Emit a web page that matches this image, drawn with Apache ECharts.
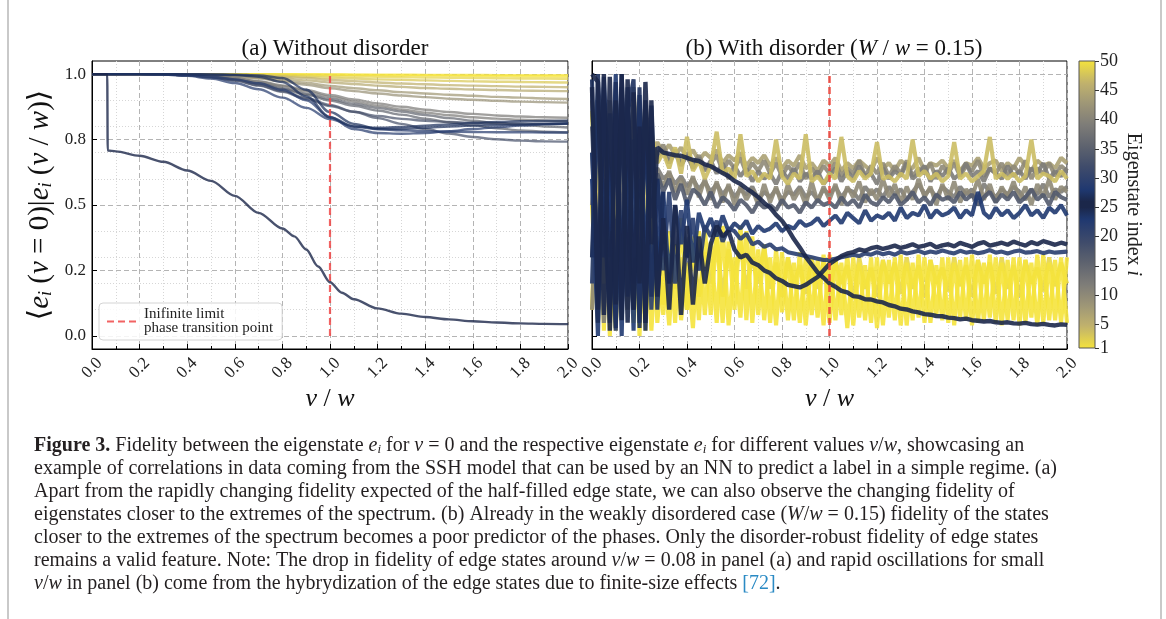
<!DOCTYPE html>
<html>
<head>
<meta charset="utf-8">
<script src="https://cdn.jsdelivr.net/npm/echarts@6.0.0/dist/echarts.min.js"></script>
<style>
  html, body { margin: 0; padding: 0; background: #fff; }
  #chart { width: 1166px; height: 619px; }
</style>
</head>
<body>
<div id="chart"></div>
<script>
// ---------- data: panel (a) ----------
var xsA = [0, 0.1, 0.2, 0.3, 0.4, 0.5, 0.6, 0.7, 0.8, 0.9, 1.0, 1.1, 1.2, 1.3, 1.4, 1.5, 1.6, 1.7, 1.8, 1.9, 2.0];

var aState1  = [1, 1, 1, 1, 1, 1, 1, 1, 1, 0.999, 0.999, 0.998, 0.998, 0.998, 0.997, 0.997, 0.997, 0.996, 0.996, 0.996, 0.996];
var aState50 = [1, 1, 1, 1, 1, 1, 1, 1, 0.999, 0.999, 0.998, 0.997, 0.996, 0.995, 0.995, 0.994, 0.993, 0.993, 0.992, 0.992, 0.991];
var aState2  = [1, 1, 1, 1, 1, 1, 0.999, 0.998, 0.997, 0.995, 0.993, 0.991, 0.99, 0.988, 0.987, 0.986, 0.985, 0.984, 0.983, 0.983, 0.982];
var aState48 = [1, 1, 1, 1, 1, 0.999, 0.998, 0.996, 0.993, 0.99, 0.986, 0.983, 0.98, 0.978, 0.976, 0.974, 0.972, 0.971, 0.97, 0.969, 0.968];
var aState5  = [1, 1, 1, 1, 1, 0.999, 0.997, 0.994, 0.99, 0.985, 0.978, 0.973, 0.968, 0.964, 0.961, 0.958, 0.956, 0.954, 0.952, 0.951, 0.95];
var aState45 = [1, 1, 1, 1, 0.999, 0.998, 0.995, 0.99, 0.984, 0.976, 0.968, 0.962, 0.956, 0.951, 0.947, 0.944, 0.941, 0.939, 0.937, 0.936, 0.935];
var aState8  = [1, 1, 1, 1, 0.999, 0.997, 0.993, 0.986, 0.977, 0.966, 0.955, 0.946, 0.938, 0.931, 0.926, 0.921, 0.917, 0.913, 0.91, 0.907, 0.905];
var aState42 = [1, 1, 1, 1, 0.999, 0.996, 0.991, 0.983, 0.972, 0.959, 0.946, 0.935, 0.926, 0.918, 0.912, 0.906, 0.902, 0.898, 0.895, 0.893, 0.891];
var aState12 = [1, 1, 1, 0.999, 0.997, 0.993, 0.985, 0.973, 0.957, 0.939, 0.92, 0.903, 0.888, 0.875, 0.864, 0.855, 0.848, 0.842, 0.838, 0.835, 0.833];
var aState39 = [1, 1, 1, 0.999, 0.997, 0.992, 0.984, 0.971, 0.954, 0.934, 0.913, 0.895, 0.879, 0.865, 0.853, 0.843, 0.835, 0.83, 0.826, 0.823, 0.821];
var aState15 = [1, 1, 1, 0.999, 0.996, 0.99, 0.98, 0.965, 0.946, 0.925, 0.905, 0.887, 0.871, 0.857, 0.844, 0.832, 0.822, 0.813, 0.806, 0.8, 0.796];
var aState36 = [1, 1, 1, 0.999, 0.996, 0.99, 0.979, 0.963, 0.943, 0.921, 0.899, 0.879, 0.861, 0.845, 0.83, 0.816, 0.804, 0.793, 0.785, 0.78, 0.777];
var aState18 = [1, 1, 1, 0.999, 0.995, 0.988, 0.976, 0.958, 0.935, 0.909, 0.882, 0.856, 0.832, 0.81, 0.79, 0.773, 0.76, 0.751, 0.746, 0.743, 0.742];
var aState33 = [1, 1, 1, 0.999, 0.995, 0.988, 0.975, 0.956, 0.932, 0.905, 0.878, 0.856, 0.84, 0.829, 0.822, 0.817, 0.814, 0.812, 0.811, 0.81, 0.81];
var aState22 = [1, 1, 1, 0.998, 0.993, 0.983, 0.966, 0.942, 0.91, 0.871, 0.828, 0.8, 0.79, 0.785, 0.782, 0.78, 0.779, 0.778, 0.778, 0.777, 0.777];
var aState29 = [1, 1, 1, 0.999, 0.996, 0.99, 0.98, 0.965, 0.94, 0.9, 0.835, 0.79, 0.775, 0.772, 0.775, 0.782, 0.79, 0.797, 0.803, 0.808, 0.812];
var aState24 = [1, 1, 1, 1, 0.999, 0.998, 0.996, 0.99, 0.97, 0.915, 0.835, 0.8, 0.795, 0.798, 0.803, 0.808, 0.813, 0.817, 0.82, 0.821, 0.822];
var aState27 = [1, 1, 1, 1, 1, 0.999, 0.998, 0.995, 0.985, 0.94, 0.855, 0.81, 0.79, 0.79, 0.795, 0.8, 0.803, 0.806, 0.808, 0.81, 0.811];

// the half-filled edge state, sampled on its own grid
var xsEdge  = [0, 0.064, 0.066, 0.1, 0.2, 0.3, 0.4, 0.5, 0.6, 0.7, 0.8, 0.85, 0.9, 0.95, 1.0, 1.05, 1.1, 1.2, 1.3, 1.4, 1.5, 1.6, 1.7, 1.8, 1.9, 2.0];
var aEdge25 = [1, 1, 0.708, 0.705, 0.688, 0.665, 0.632, 0.592, 0.535, 0.47, 0.41, 0.38, 0.33, 0.265, 0.205, 0.165, 0.14, 0.105, 0.085, 0.072, 0.063, 0.056, 0.051, 0.048, 0.046, 0.045];

// ---------- data: panel (b) ----------
var xsB = [0, 0.025, 0.05, 0.075, 0.1, 0.125, 0.15, 0.175, 0.2, 0.225,
  0.25, 0.275, 0.3, 0.325, 0.35, 0.375, 0.4, 0.425, 0.45, 0.475,
  0.5, 0.525, 0.55, 0.575, 0.6, 0.625, 0.65, 0.675, 0.7, 0.725,
  0.75, 0.775, 0.8, 0.825, 0.85, 0.875, 0.9, 0.925, 0.95, 0.975,
  1.0, 1.025, 1.05, 1.075, 1.1, 1.125, 1.15, 1.175, 1.2, 1.225,
  1.25, 1.275, 1.3, 1.325, 1.35, 1.375, 1.4, 1.425, 1.45, 1.475,
  1.5, 1.525, 1.55, 1.575, 1.6, 1.625, 1.65, 1.675, 1.7, 1.725,
  1.75, 1.775, 1.8, 1.825, 1.85, 1.875, 1.9, 1.925, 1.95, 1.975, 2.0];

var bState49 = [0.5, 0.05, 0.7, 0.3, 0.02, 0.6, 0.25, 0.8, 0.1, 0.45,
  0.15, 0.3, 0.12, 0.33, 0.18, 0.3, 0.1, 0.35, 0.15, 0.32,
  0.2, 0.38, 0.15, 0.33, 0.22, 0.36, 0.18, 0.3, 0.2, 0.34,
  0.18, 0.28, 0.15, 0.3, 0.2, 0.27, 0.16, 0.3, 0.18, 0.28,
  0.16, 0.29, 0.2, 0.27, 0.14, 0.3, 0.18, 0.26, 0.15, 0.29,
  0.2, 0.28, 0.16, 0.3, 0.18, 0.27, 0.15, 0.29, 0.2, 0.26,
  0.17, 0.3, 0.19, 0.27, 0.15, 0.29, 0.2, 0.28, 0.16, 0.3,
  0.18, 0.27, 0.15, 0.29, 0.2, 0.26, 0.17, 0.3, 0.19, 0.28, 0.2];
var bState1 = [0.85, 0.4, 0.86, 0.0, 0.7, 0.2, 0.86, 0.05, 0.6, 0.02,
  0.5, 0.05, 0.3, 0.04, 0.35, 0.06, 0.28, 0.03, 0.4, 0.08,
  0.36, 0.05, 0.42, 0.04, 0.3, 0.07, 0.4, 0.05, 0.33, 0.06,
  0.3, 0.04, 0.32, 0.06, 0.28, 0.05, 0.3, 0.08, 0.29, 0.04,
  0.31, 0.06, 0.28, 0.03, 0.3, 0.07, 0.27, 0.05, 0.3, 0.04,
  0.29, 0.06, 0.31, 0.04, 0.28, 0.07, 0.3, 0.05, 0.27, 0.06,
  0.3, 0.04, 0.29, 0.06, 0.31, 0.05, 0.28, 0.07, 0.3, 0.04,
  0.29, 0.06, 0.3, 0.05, 0.28, 0.04, 0.31, 0.06, 0.29, 0.05, 0.3];
var bState50 = [0.1, 0.8, 0.02, 0.75, 0.3, 0.84, 0.1, 0.65, 0.0, 0.5,
  0.02, 0.38, 0.08, 0.4, 0.05, 0.45, 0.1, 0.38, 0.06, 0.42,
  0.08, 0.4, 0.05, 0.36, 0.1, 0.42, 0.06, 0.38, 0.08, 0.35,
  0.05, 0.33, 0.09, 0.3, 0.06, 0.32, 0.04, 0.29, 0.07, 0.31,
  0.05, 0.29, 0.08, 0.31, 0.04, 0.28, 0.06, 0.3, 0.03, 0.29,
  0.07, 0.3, 0.04, 0.28, 0.06, 0.31, 0.05, 0.29, 0.08, 0.3,
  0.05, 0.28, 0.07, 0.3, 0.04, 0.29, 0.06, 0.31, 0.05, 0.28,
  0.06, 0.3, 0.04, 0.29, 0.07, 0.31, 0.05, 0.28, 0.06, 0.3, 0.05];
var bState44 = [0.9, 0.4, 0.8, 0.15, 0.65, 0.3, 0.85, 0.5, 0.2, 0.75,
  0.7, 0.74, 0.7, 0.73, 0.69, 0.72, 0.68, 0.71, 0.67, 0.7,
  0.68, 0.71, 0.66, 0.69, 0.67, 0.7, 0.65, 0.68, 0.66, 0.69,
  0.65, 0.68, 0.64, 0.67, 0.65, 0.69, 0.64, 0.66, 0.63, 0.67,
  0.65, 0.68, 0.63, 0.66, 0.64, 0.67, 0.65, 0.63, 0.68, 0.64,
  0.66, 0.63, 0.67, 0.65, 0.64, 0.68, 0.63, 0.66, 0.65, 0.67,
  0.64, 0.67, 0.63, 0.66, 0.65, 0.68, 0.64, 0.66, 0.67, 0.63,
  0.66, 0.64, 0.68, 0.65, 0.63, 0.67, 0.65, 0.66, 0.64, 0.68, 0.66];
var bState41 = [0.7, 0.2, 0.9, 0.5, 0.1, 0.8, 0.35, 0.95, 0.6, 0.25,
  0.74, 0.69, 0.73, 0.67, 0.71, 0.66, 0.7, 0.65, 0.69, 0.64,
  0.66, 0.69, 0.63, 0.67, 0.64, 0.68, 0.62, 0.66, 0.63, 0.67,
  0.62, 0.66, 0.61, 0.65, 0.62, 0.66, 0.6, 0.64, 0.61, 0.65,
  0.62, 0.66, 0.61, 0.64, 0.62, 0.67, 0.61, 0.65, 0.62, 0.66,
  0.61, 0.65, 0.62, 0.67, 0.61, 0.64, 0.62, 0.66, 0.6, 0.65,
  0.62, 0.66, 0.61, 0.65, 0.63, 0.67, 0.61, 0.64, 0.62, 0.66,
  0.61, 0.65, 0.62, 0.67, 0.6, 0.64, 0.62, 0.66, 0.61, 0.65, 0.63];
var bState39 = [0.5, 0.9, 0.2, 0.7, 0.4, 0.95, 0.1, 0.6, 0.85, 0.3,
  0.72, 0.68, 0.71, 0.66, 0.7, 0.65, 0.69, 0.64, 0.68, 0.63,
  0.67, 0.62, 0.66, 0.6, 0.65, 0.61, 0.64, 0.59, 0.63, 0.6,
  0.62, 0.58, 0.63, 0.6, 0.64, 0.59, 0.62, 0.6, 0.63, 0.58,
  0.61, 0.64, 0.59, 0.63, 0.6, 0.65, 0.61, 0.62, 0.58, 0.64,
  0.6, 0.63, 0.61, 0.66, 0.6, 0.62, 0.65, 0.59, 0.63, 0.61,
  0.64, 0.6, 0.62, 0.66, 0.61, 0.63, 0.59, 0.64, 0.62, 0.6,
  0.65, 0.61, 0.63, 0.6, 0.64, 0.62, 0.66, 0.6, 0.63, 0.61, 0.64];
var bState12 = [0.3, 0.7, 0.05, 0.5, 0.85, 0.2, 0.6, 0.35, 0.75, 0.15,
  0.6, 0.64, 0.6, 0.62, 0.58, 0.61, 0.57, 0.6, 0.56, 0.59,
  0.55, 0.58, 0.54, 0.57, 0.53, 0.56, 0.54, 0.57, 0.52, 0.55,
  0.53, 0.56, 0.52, 0.55, 0.54, 0.57, 0.53, 0.55, 0.52, 0.56,
  0.54, 0.57, 0.53, 0.56, 0.55, 0.52, 0.57, 0.54, 0.56, 0.53,
  0.57, 0.54, 0.56, 0.52, 0.55, 0.58, 0.54, 0.56, 0.53, 0.57,
  0.55, 0.53, 0.57, 0.54, 0.56, 0.52, 0.58, 0.55, 0.53, 0.56,
  0.54, 0.57, 0.55, 0.52, 0.56, 0.54, 0.58, 0.53, 0.56, 0.55, 0.57];
var bState10 = [0.1, 0.6, 0.35, 0.9, 0.05, 0.5, 0.8, 0.2, 0.4, 0.9,
  0.55, 0.62, 0.57, 0.63, 0.55, 0.6, 0.54, 0.61, 0.53, 0.6,
  0.52, 0.59, 0.51, 0.58, 0.5, 0.57, 0.52, 0.56, 0.5, 0.58,
  0.51, 0.57, 0.5, 0.58, 0.52, 0.56, 0.5, 0.59, 0.51, 0.57,
  0.52, 0.58, 0.5, 0.57, 0.53, 0.59, 0.51, 0.56, 0.52, 0.6,
  0.53, 0.58, 0.51, 0.57, 0.52, 0.6, 0.53, 0.57, 0.5, 0.58,
  0.52, 0.59, 0.51, 0.56, 0.53, 0.6, 0.52, 0.58, 0.51, 0.57,
  0.53, 0.59, 0.52, 0.57, 0.5, 0.58, 0.53, 0.6, 0.52, 0.57, 0.55];
var bState47 = [0.86, 0.6, 0.2, 0.85, 0.45, 0.1, 0.8, 0.3, 0.7, 0.5,
  0.78, 0.66, 0.7, 0.64, 0.72, 0.62, 0.76, 0.63, 0.67, 0.6,
  0.65, 0.78, 0.62, 0.64, 0.6, 0.77, 0.61, 0.63, 0.59, 0.62,
  0.6, 0.75, 0.61, 0.58, 0.62, 0.6, 0.77, 0.59, 0.61, 0.58,
  0.62, 0.6, 0.76, 0.61, 0.59, 0.63, 0.6, 0.62, 0.74, 0.6,
  0.61, 0.59, 0.62, 0.6, 0.75, 0.61, 0.63, 0.6, 0.62, 0.59,
  0.61, 0.74, 0.6, 0.62, 0.59, 0.61, 0.63, 0.76, 0.6, 0.62,
  0.6, 0.62, 0.59, 0.61, 0.75, 0.6, 0.62, 0.61, 0.59, 0.63, 0.6];
var bState34 = [0.8, 0.3, 0.6, 0.1, 0.75, 0.4, 0.9, 0.2, 0.55, 0.7,
  0.45, 0.62, 0.55, 0.6, 0.52, 0.58, 0.5, 0.56, 0.54, 0.5,
  0.55, 0.49, 0.53, 0.51, 0.48, 0.52, 0.5, 0.47, 0.51, 0.49,
  0.5, 0.48, 0.52, 0.49, 0.5, 0.47, 0.51, 0.49, 0.52, 0.5,
  0.51, 0.49, 0.53, 0.5, 0.52, 0.49, 0.54, 0.51, 0.5, 0.53,
  0.51, 0.54, 0.5, 0.52, 0.55, 0.51, 0.53, 0.5, 0.54, 0.52,
  0.53, 0.51, 0.55, 0.52, 0.54, 0.5, 0.53, 0.55, 0.51, 0.54,
  0.52, 0.55, 0.51, 0.53, 0.56, 0.52, 0.54, 0.5, 0.55, 0.53, 0.52];
var bState28 = [0.6, 0.0, 0.95, 0.3, 1.0, 0.1, 0.7, 0.02, 0.92, 0.25,
  0.8, 0.3, 0.55, 0.2, 0.5, 0.35, 0.52, 0.28, 0.47, 0.4,
  0.45, 0.38, 0.46, 0.4, 0.43, 0.41, 0.44, 0.39, 0.42, 0.4,
  0.41, 0.43, 0.4, 0.42, 0.41, 0.44, 0.42, 0.43, 0.45, 0.42,
  0.44, 0.46, 0.43, 0.47, 0.45, 0.43, 0.48, 0.44, 0.46, 0.45,
  0.47, 0.44, 0.49, 0.45, 0.47, 0.46, 0.5, 0.45, 0.48, 0.46,
  0.47, 0.49, 0.45, 0.48, 0.46, 0.55, 0.47, 0.45, 0.49, 0.46,
  0.48, 0.45, 0.47, 0.5, 0.46, 0.48, 0.45, 0.49, 0.47, 0.5, 0.46];
var bState22 = [0.2, 0.9, 0.3, 0.85, 0.02, 0.95, 0.15, 0.75, 0.05, 0.88,
  0.1, 0.6, 0.25, 0.55, 0.2, 0.48, 0.3, 0.45, 0.25, 0.42,
  0.38, 0.44, 0.36, 0.41, 0.4, 0.37, 0.39, 0.35, 0.36, 0.34,
  0.35, 0.33, 0.335, 0.32, 0.315, 0.31, 0.305, 0.3, 0.295, 0.29,
  0.29, 0.295, 0.3, 0.305, 0.31, 0.305, 0.315, 0.31, 0.32, 0.312,
  0.318, 0.31, 0.322, 0.315, 0.32, 0.325, 0.316, 0.322, 0.318, 0.326,
  0.32, 0.315, 0.325, 0.318, 0.322, 0.316, 0.32, 0.328, 0.318, 0.322,
  0.315, 0.322, 0.326, 0.318, 0.32, 0.324, 0.316, 0.322, 0.318, 0.32, 0.322];
var bState26 = [0.95, 0.1, 1.0, 0.02, 0.9, 0.06, 0.98, 0.1, 0.8, 0.05,
  0.9, 0.15, 0.45, 0.1, 0.5, 0.08, 0.42, 0.12, 0.38, 0.2,
  0.35, 0.42, 0.38, 0.4, 0.33, 0.3, 0.31, 0.28, 0.27, 0.25,
  0.24, 0.22, 0.21, 0.195, 0.19, 0.185, 0.195, 0.21, 0.225, 0.25,
  0.275, 0.29, 0.305, 0.315, 0.32, 0.33, 0.325, 0.335, 0.34, 0.332,
  0.338, 0.345, 0.336, 0.342, 0.35, 0.34, 0.345, 0.352, 0.338, 0.346,
  0.35, 0.342, 0.355, 0.348, 0.34, 0.352, 0.358, 0.345, 0.35, 0.356,
  0.348, 0.36, 0.352, 0.345, 0.358, 0.35, 0.362, 0.355, 0.348, 0.356, 0.35];
var bState25 = [1.0, 0.97, 0.08, 0.99, 0.12, 1.0, 0.05, 0.93, 0.2, 0.97,
  0.35, 0.72, 0.7, 0.695, 0.69, 0.688, 0.68, 0.672, 0.668, 0.655,
  0.648, 0.635, 0.622, 0.61, 0.592, 0.58, 0.563, 0.548, 0.53, 0.508,
  0.49, 0.462, 0.44, 0.408, 0.37, 0.338, 0.302, 0.272, 0.243, 0.222,
  0.2, 0.188, 0.172, 0.166, 0.152, 0.149, 0.14, 0.139, 0.132, 0.128,
  0.118, 0.113, 0.104, 0.101, 0.094, 0.09, 0.083, 0.081, 0.076, 0.075,
  0.07, 0.068, 0.063, 0.066, 0.06, 0.058, 0.055, 0.057, 0.052, 0.05,
  0.052, 0.048, 0.047, 0.05, 0.045, 0.043, 0.046, 0.042, 0.04, 0.044, 0.042];
// hybridised states that only matter for small v/w (first 13 samples of xsB)
var bEarly24 = [0.98, 0.05, 0.9, 0.6, 0.03, 1.0, 0.4, 0.1, 0.95, 0.02, 0.75, 0.1, 0.55];
var bEarly27 = [0.3, 1.0, 0.5, 0.05, 0.97, 0.2, 0.85, 0.98, 0.03, 0.9, 0.15, 0.6, 0.35];
var bEarly23 = [0.7, 0.2, 0.99, 0.4, 0.85, 0.0, 0.95, 0.3, 0.6, 0.1, 0.88, 0.25, 0.45];

// ---------- axes ----------
var xTickStep = 0.2;
var yMajorVals = [0, 0.25, 0.5, 0.75, 1.0];
var yMajorLabels = ['0.0', '0.2', '0.5', '0.8', '1.0'];
var yMinorVals = [0.1, 0.2, 0.3, 0.4, 0.6, 0.7, 0.8, 0.9];
var cbTicks = [1, 5, 10, 15, 20, 25, 30, 35, 40, 45, 50];
var transitionX = [1.0, 1.0];
var transitionY = [0, 1.0];

// ---------- colormap (mirrored cividis-like) ----------
var cmapStops = [
  [0.0, [26, 35, 64]], [0.1, [31, 56, 112]], [0.25, [61, 74, 107]],
  [0.4, [93, 98, 110]], [0.55, [125, 124, 120]], [0.7, [158, 150, 119]],
  [0.85, [194, 179, 108]], [1.0, [245, 227, 60]]
];
function cmap(t) {
  for (var k = 1; k < cmapStops.length; k++) {
    if (t <= cmapStops[k][0]) {
      var a = cmapStops[k - 1], b = cmapStops[k];
      var f = (t - a[0]) / (b[0] - a[0]);
      var c = a[1].map(function (v, j) { return Math.round(v + (b[1][j] - v) * f); });
      return 'rgb(' + c.join(',') + ')';
    }
  }
  return 'rgb(' + cmapStops[cmapStops.length - 1][1].join(',') + ')';
}
function stateColor(i) { return cmap(Math.abs(i - 25.5) / 24.5); }

var serif = "'Liberation Serif', 'DejaVu Serif', serif";

var chartDom = document.getElementById('chart');
var fidelityChart = echarts.init(chartDom);

var series = [];

var aLines = [
  [1, aState1], [50, aState50], [2, aState2], [48, aState48], [5, aState5], [45, aState45],
  [8, aState8], [42, aState42], [12, aState12], [39, aState39], [15, aState15], [36, aState36],
  [18, aState18], [33, aState33], [22, aState22], [29, aState29], [24, aState24], [27, aState27]
];
aLines.forEach(function (l) {
  series.push({
    type: 'line', xAxisIndex: 0, yAxisIndex: 0, symbol: 'none', silent: true,
    smooth: 0.35, smoothMonotone: 'x',
    data: xsA.map(function (x, k) { return [x, l[1][k]]; }),
    lineStyle: { color: stateColor(l[0]), width: 2.4, opacity: 0.72 }
  });
});
series.push({
  type: 'line', xAxisIndex: 0, yAxisIndex: 0, symbol: 'none', silent: true,
  smooth: 0.3, smoothMonotone: 'x',
  data: xsEdge.map(function (x, k) { return [x, aEdge25[k]]; }),
  lineStyle: { color: stateColor(25), width: 2.4, opacity: 0.8 }
});

var bLines = [
  [49, bState49], [1, bState1], [50, bState50], [44, bState44], [41, bState41], [39, bState39],
  [12, bState12], [10, bState10], [47, bState47], [34, bState34], [28, bState28], [22, bState22],
  [24, bEarly24], [27, bEarly27], [23, bEarly23], [26, bState26], [25, bState25]
];
bLines.forEach(function (l) {
  var edge = (l[0] === 25 || l[0] === 26);
  series.push({
    type: 'line', xAxisIndex: 1, yAxisIndex: 2, symbol: 'none', silent: true,
    data: l[1].map(function (y, k) { return [xsB[k], y]; }),
    lineStyle: { color: stateColor(l[0]), width: edge ? 4.4 : 4.1, opacity: 0.9 }
  });
});

var legendName = 'Inifinite limit\nphase transition point';
series.push({
  name: legendName, type: 'line', xAxisIndex: 0, yAxisIndex: 0, symbol: 'none', silent: true, z: 5,
  data: transitionX.map(function (x, k) { return [x, transitionY[k]]; }),
  itemStyle: { color: '#f04848' },
  lineStyle: { color: '#f04848', width: 2.2, type: [7, 4], opacity: 0.85 }
});
series.push({
  name: 'transition (b)', type: 'line', xAxisIndex: 1, yAxisIndex: 2, symbol: 'none', silent: true, z: 5,
  data: transitionX.map(function (x, k) { return [x, transitionY[k]]; }),
  lineStyle: { color: '#eb4036', width: 2.6, type: [7, 4], opacity: 0.85 }
});

function xAxisPanel(gi) {
  return {
    type: 'value', gridIndex: gi, min: 0, max: 2, interval: xTickStep,
    name: '{i|v} / {i|w}', nameLocation: 'middle', nameGap: 37,
    nameTextStyle: { fontFamily: serif, fontSize: 26, color: '#111', rich: { i: { fontStyle: 'italic', fontFamily: serif, fontSize: 26 } } },
    axisLine: { show: true, onZero: false, lineStyle: { color: '#000', width: 1 } },
    axisTick: { show: true, inside: true, length: 5, lineStyle: { color: '#000' } },
    minorTick: { show: true, splitNumber: 2, length: 3, lineStyle: { color: '#000' } },
    axisLabel: {
      rotate: 45, align: 'center', verticalAlign: 'middle', margin: 19,
      fontFamily: serif, fontSize: 17, color: '#222',
      formatter: function (v) { return v.toFixed(1); }
    },
    splitLine: { show: true, lineStyle: { color: '#b4b4b4', width: 1, type: [5, 3] } },
    minorSplitLine: { show: true, lineStyle: { color: '#d6d6d6', width: 1, type: [1, 2] } }
  };
}
function yMajorAxis(gi, labels) {
  return {
    type: 'value', gridIndex: gi, min: -0.05, max: 1.05, position: 'left',
    axisLine: { show: true, onZero: false, lineStyle: { color: '#000', width: 1 } },
    axisTick: { show: true, inside: true, length: 5, customValues: yMajorVals, lineStyle: { color: '#000' } },
    axisLabel: {
      show: labels, customValues: yMajorVals, margin: 6,
      fontFamily: serif, fontSize: 17, color: '#222',
      formatter: function (v) {
        for (var k = 0; k < yMajorVals.length; k++) {
          if (Math.abs(yMajorVals[k] - v) < 1e-6) return yMajorLabels[k];
        }
        return '';
      }
    },
    splitLine: { show: true, lineStyle: { color: '#b4b4b4', width: 1, type: [5, 3] } }
  };
}
function yMinorAxis(gi) {
  return {
    type: 'value', gridIndex: gi, min: -0.05, max: 1.05, position: 'right',
    axisLine: { show: false }, axisLabel: { show: false },
    axisTick: { show: false, customValues: yMinorVals },
    splitLine: { show: true, lineStyle: { color: '#d6d6d6', width: 1, type: [1, 2] } }
  };
}

var yAxisA = yMajorAxis(0, true);
yAxisA.name = '⟨{i|e}{s|i} ({i|v} = 0)|{i|e}{s|i} ({i|v} / {i|w})⟩';
yAxisA.nameLocation = 'middle';
yAxisA.nameRotate = 90;
yAxisA.nameGap = 37;
yAxisA.nameTextStyle = {
  fontFamily: serif, fontSize: 29, color: '#111',
  rich: { i: { fontStyle: 'italic', fontFamily: serif, fontSize: 29 }, s: { fontStyle: 'italic', fontFamily: serif, fontSize: 18, verticalAlign: 'bottom' } }
};

var cbStops = [];
for (var v = 50; v >= 1; v--) {
  cbStops.push({ offset: (50 - v) / 49, color: stateColor(v) });
}

var option = {
  animation: false,
  backgroundColor: '#fff',
  title: [
    {
      text: '(a) Without disorder', left: 330, top: 32, textAlign: 'center',
      textStyle: { fontFamily: serif, fontSize: 23, fontWeight: 'normal', color: '#111' }
    },
    {
      text: '(b) With disorder ({i|W} / {i|w} = 0.15)', left: 829, top: 32, textAlign: 'center',
      textStyle: {
        fontFamily: serif, fontSize: 23, fontWeight: 'normal', color: '#111',
        rich: { i: { fontStyle: 'italic', fontFamily: serif, fontSize: 23, color: '#111' } }
      }
    }
  ],
  legend: {
    data: [legendName], left: 99, top: 303, orient: 'vertical',
    itemWidth: 32, itemHeight: 12, itemGap: 4,
    padding: [4, 9, 4, 7], backgroundColor: 'rgba(255,255,255,0.85)',
    borderColor: '#d4d4d4', borderWidth: 1, borderRadius: 4,
    itemStyle: { opacity: 0 },
    textStyle: { fontFamily: serif, fontSize: 15, color: '#222', lineHeight: 14 },
    selectedMode: false
  },
  grid: [
    { left: 92, top: 61, width: 476, height: 288, show: true, borderColor: '#000', borderWidth: 1, outerBoundsMode: 'none' },
    { left: 592, top: 61, width: 475, height: 288, show: true, borderColor: '#000', borderWidth: 1, outerBoundsMode: 'none' },
    {
      left: 1079, top: 61, width: 16, height: 287, show: true, borderColor: '#555', borderWidth: 1, outerBoundsMode: 'none',
      backgroundColor: new echarts.graphic.LinearGradient(0, 0, 0, 1, cbStops)
    }
  ],
  xAxis: [
    xAxisPanel(0),
    xAxisPanel(1),
    { type: 'category', gridIndex: 2, data: [''], show: false }
  ],
  yAxis: [
    yAxisA,
    yMinorAxis(0),
    yMajorAxis(1, false),
    yMinorAxis(1),
    {
      type: 'value', gridIndex: 2, min: 1, max: 50, position: 'right',
      axisLine: { show: false },
      axisTick: { show: true, inside: false, length: 4, customValues: cbTicks, lineStyle: { color: '#333' } },
      axisLabel: { customValues: cbTicks, margin: 5, fontFamily: serif, fontSize: 18, color: '#222' },
      splitLine: { show: false },
      name: 'Eigenstate index {i|i}', nameLocation: 'middle', nameRotate: -90, nameGap: 28,
      nameTextStyle: { fontFamily: serif, fontSize: 20, color: '#222', rich: { i: { fontStyle: 'italic', fontFamily: serif, fontSize: 20 } } }
    }
  ],
  series: series,
  graphic: []
};

// page frame and caption
var captionLines = [
  '{b|Figure 3.} Fidelity between the eigenstate {i|e}{s|i} for {i|v} = 0 and the respective eigenstate {i|e}{s|i} for different values {i|v}/{i|w}, showcasing an',
  'example of correlations in data coming from the SSH model that can be used by an NN to predict a label in a simple regime. (a)',
  'Apart from the rapidly changing fidelity expected of the half-filled edge state, we can also observe the changing fidelity of',
  'eigenstates closer to the extremes of the spectrum. (b) Already in the weakly disordered case ({i|W}/{i|w} = 0.15) fidelity of the states',
  'closer to the extremes of the spectrum becomes a poor predictor of the phases. Only the disorder-robust fidelity of edge states',
  'remains a valid feature. Note: The drop in fidelity of edge states around {i|v}/{i|w} = 0.08 in panel (a) and rapid oscillations for small',
  '{i|v}/{i|w} in panel (b) come from the hybrydization of the edge states due to finite-size effects {l|[72]}.'
];
option.graphic.push({ type: 'rect', left: 7, top: 0, shape: { width: 2, height: 619 }, style: { fill: '#c9c9c9' }, silent: true });
option.graphic.push({ type: 'rect', left: 1160, top: 0, shape: { width: 2, height: 619 }, style: { fill: '#c9c9c9' }, silent: true });
captionLines.forEach(function (t, k) {
  option.graphic.push({
    type: 'text', left: 34, top: 436 + k * 23, silent: true,
    style: {
      text: t, fill: '#231f20', font: '20px ' + serif,
      rich: {
        b: { fontWeight: 'bold', fontFamily: serif, fontSize: 20, fill: '#231f20' },
        i: { fontStyle: 'italic', fontFamily: serif, fontSize: 20, fill: '#231f20' },
        s: { fontStyle: 'italic', fontFamily: serif, fontSize: 13, fill: '#231f20', verticalAlign: 'bottom' },
        l: { fontFamily: serif, fontSize: 20, fill: '#2a8ac4' }
      }
    }
  });
});

option && fidelityChart.setOption(option);
</script>
</body>
</html>
